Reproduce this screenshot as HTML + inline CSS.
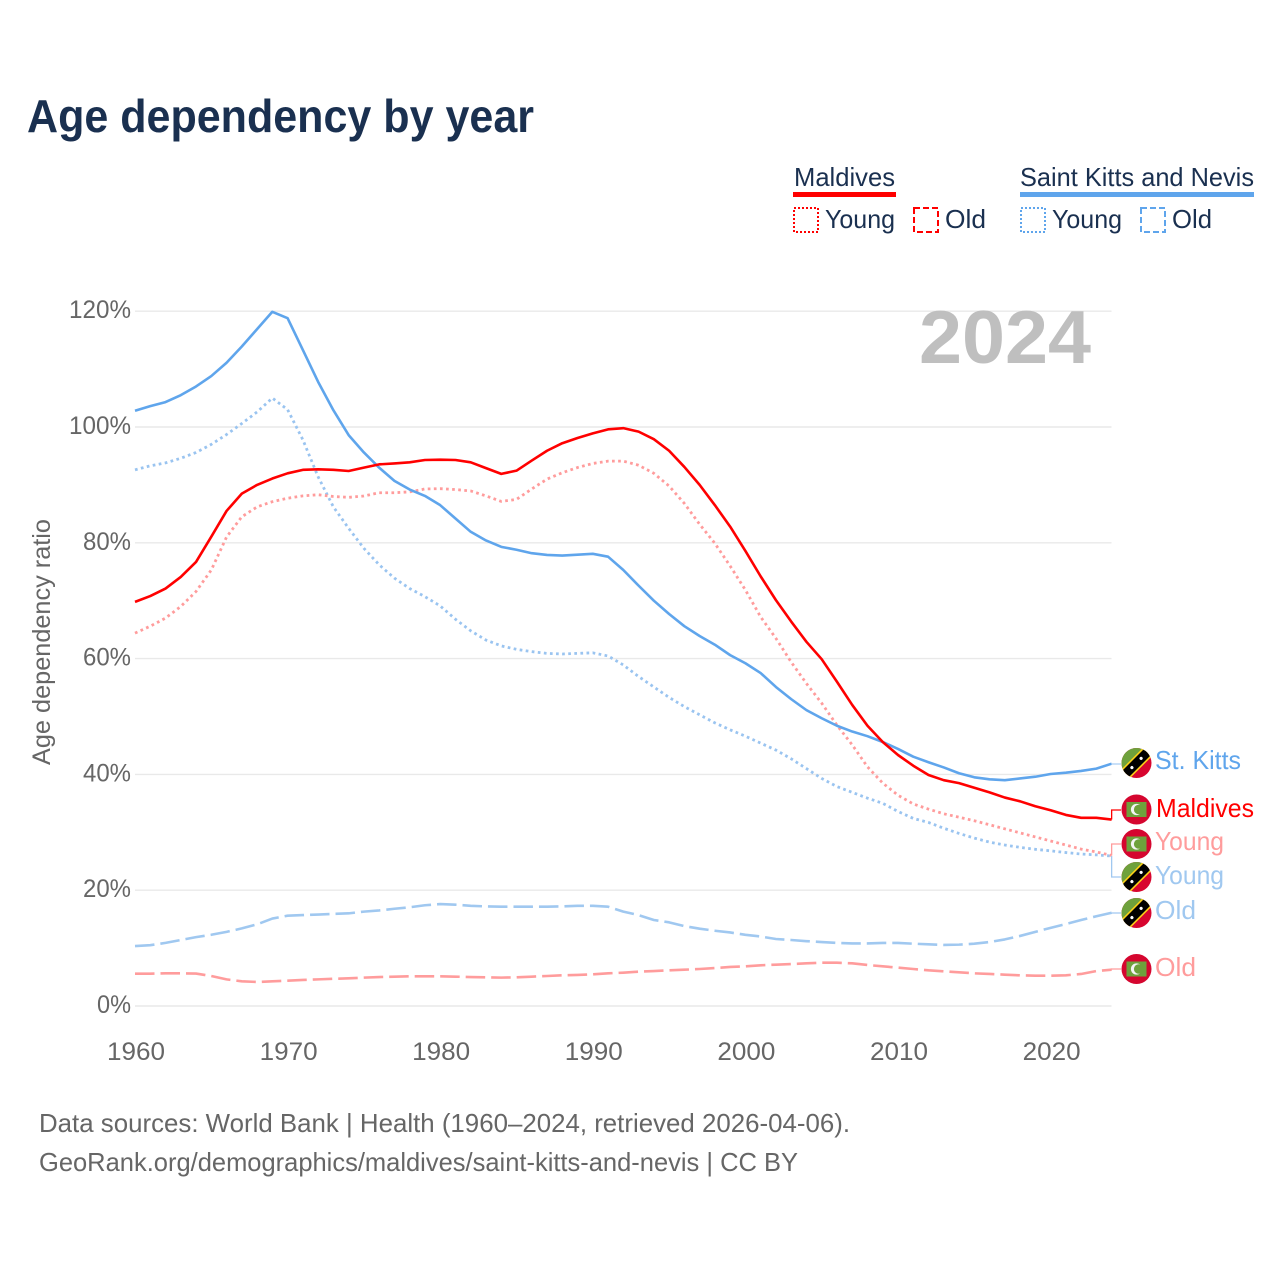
<!DOCTYPE html>
<html lang="en">
<head>
<meta charset="utf-8">
<title>Age dependency by year</title>
<style>
html,body{margin:0;padding:0;background:#fff;width:1280px;height:1280px;overflow:hidden}
svg{display:block}
text{font-family:"Liberation Sans",sans-serif}
</style>
</head>
<body>
<svg id="chart" width="1280" height="1280" viewBox="0 0 1280 1280" xmlns="http://www.w3.org/2000/svg">
<defs>
<clipPath id="flag-clip"><circle cx="0" cy="0" r="15"/></clipPath>
<g id="flag-kn" clip-path="url(#flag-clip)">
<rect x="-15" y="-15" width="30" height="30" fill="#d8062f"/>
<polygon points="-15,-15 15,-15 -15,15" fill="#6ea13c"/>
<g transform="rotate(-45)">
<rect x="-22" y="-6.2" width="44" height="12.4" fill="#fcd116"/>
<rect x="-22" y="-4.6" width="44" height="9.2" fill="#000"/>
<circle cx="6.5" cy="0" r="1.6" fill="#fff"/>
<circle cx="-6.5" cy="0" r="1.6" fill="#fff"/>
</g>
</g>
<g id="flag-mv" clip-path="url(#flag-clip)">
<rect x="-15" y="-15" width="30" height="30" fill="#d5062f"/>
<rect x="-10" y="-7.5" width="20" height="15" fill="#6ea13c"/>
<circle cx="0" cy="0" r="5.6" fill="#f4f4f4"/>
<circle cx="2.2" cy="0" r="4.8" fill="#6ea13c"/>
</g>
</defs>

<text x="27" y="132" font-size="46" font-weight="700" fill="#1a3050" textLength="507" lengthAdjust="spacingAndGlyphs">Age dependency by year</text>

<g fill="#1a3050" font-size="26">
<text x="794" y="186" textLength="101" lengthAdjust="spacingAndGlyphs">Maldives</text>
<rect x="793" y="192" width="103" height="5" fill="#ff0000"/>
<rect x="794" y="208" width="24" height="24" fill="none" stroke="#ff0000" stroke-width="2" stroke-dasharray="2,2"/>
<text x="825" y="228" textLength="70" lengthAdjust="spacingAndGlyphs">Young</text>
<rect x="914" y="208" width="24" height="24" fill="none" stroke="#ff0000" stroke-width="2" stroke-dasharray="6,3"/>
<text x="945" y="228" textLength="41" lengthAdjust="spacingAndGlyphs">Old</text>
<text x="1020" y="186" textLength="234" lengthAdjust="spacingAndGlyphs">Saint Kitts and Nevis</text>
<rect x="1020" y="192" width="234" height="5" fill="#5fa5ec"/>
<rect x="1021" y="208" width="24" height="24" fill="none" stroke="#5fa5ec" stroke-width="2" stroke-dasharray="2,2"/>
<text x="1052" y="228" textLength="70" lengthAdjust="spacingAndGlyphs">Young</text>
<rect x="1141" y="208" width="24" height="24" fill="none" stroke="#5fa5ec" stroke-width="2" stroke-dasharray="6,3"/>
<text x="1172" y="228" textLength="40" lengthAdjust="spacingAndGlyphs">Old</text>
</g>

<g id="grid"></g>
<text x="919" y="363" font-size="75" font-weight="700" fill="#bfbfbf" textLength="172" lengthAdjust="spacingAndGlyphs">2024</text>
<text transform="translate(50 765) rotate(-90)" font-size="25" fill="#666666" textLength="246" lengthAdjust="spacingAndGlyphs">Age dependency ratio</text>
<g id="y-ticks"></g>
<g id="x-ticks"></g>
<g id="series"></g>
<g id="connectors"></g>

<g font-size="26">
<use href="#flag-kn" x="1136.5" y="763"/>
<text x="1155" y="769" fill="#5fa5ec" textLength="86" lengthAdjust="spacingAndGlyphs">St. Kitts</text>
<use href="#flag-mv" x="1136.5" y="809.5"/>
<text x="1156" y="817" fill="#ff0000" textLength="98" lengthAdjust="spacingAndGlyphs">Maldives</text>
<use href="#flag-mv" x="1136.5" y="844"/>
<text x="1155" y="850" fill="#ff9c9c" textLength="69" lengthAdjust="spacingAndGlyphs">Young</text>
<use href="#flag-kn" x="1136.5" y="877"/>
<text x="1155" y="884" fill="#a0c8f0" textLength="69" lengthAdjust="spacingAndGlyphs">Young</text>
<use href="#flag-kn" x="1136.5" y="913"/>
<text x="1155" y="919" fill="#a0c8f0" textLength="41" lengthAdjust="spacingAndGlyphs">Old</text>
<use href="#flag-mv" x="1136.5" y="969"/>
<text x="1155" y="976" fill="#ff9c9c" textLength="41" lengthAdjust="spacingAndGlyphs">Old</text>
</g>

<text x="39" y="1132" font-size="26" fill="#666666" textLength="811" lengthAdjust="spacingAndGlyphs">Data sources: World Bank | Health (1960–2024, retrieved 2026-04-06).</text>
<text x="39" y="1171" font-size="26" fill="#666666" textLength="759" lengthAdjust="spacingAndGlyphs">GeoRank.org/demographics/maldives/saint-kitts-and-nevis | CC BY</text>
</svg>

<script>
const years = [1960,1961,1962,1963,1964,1965,1966,1967,1968,1969,1970,1971,1972,1973,1974,1975,1976,1977,1978,1979,1980,1981,1982,1983,1984,1985,1986,1987,1988,1989,1990,1991,1992,1993,1994,1995,1996,1997,1998,1999,2000,2001,2002,2003,2004,2005,2006,2007,2008,2009,2010,2011,2012,2013,2014,2015,2016,2017,2018,2019,2020,2021,2022,2023,2024];
const xTickLabels = [1960,1970,1980,1990,2000,2010,2020];
const yTickLabels = [0,20,40,60,80,100,120];

const maldivesTotal = [69.8,70.8,72.1,74.1,76.7,81.06,85.5,88.5,90,91.1,
92,92.6,92.7,92.6,92.4,92.98,93.55,93.7,93.9,94.3,
94.36,94.3,93.9,92.9,91.9,92.46,94.2,95.9,97.2,98.1,
98.9,99.6,99.8,99.2,97.9,95.9,93.1,90,86.5,82.8,
78.6,74.2,70.1,66.4,62.9,59.9,56,52,48.4,45.6,
43.35,41.5,39.9,39,38.5,37.7,36.9,36,35.35,34.5,
33.8,33,32.5,32.5,32.2];
const maldivesYoung = [64.4,65.6,67,69,71.6,75.3,81,84.5,86.2,87.1,
87.7,88.1,88.3,88,87.85,88.08,88.65,88.65,88.8,89.3,
89.35,89.2,88.95,88.1,87.15,87.5,89.3,91,92.1,93,
93.7,94.1,94.1,93.4,92,89.8,86.8,83.2,79.9,76,
71.85,67.2,63.5,59.4,55.7,52.3,48.5,45.1,41.3,38.5,
36.4,34.9,34,33.2,32.6,32,31.3,30.6,29.9,29.2,
28.5,27.8,27.1,26.6,26];
const maldivesOld = [5.58,5.58,5.64,5.64,5.6,5.18,4.6,4.26,4.15,4.26,
4.37,4.5,4.6,4.7,4.78,4.9,5,5.07,5.13,5.13,
5.13,5.07,5,4.95,4.9,4.95,5.07,5.18,5.3,5.36,
5.47,5.64,5.76,5.93,6.04,6.16,6.27,6.39,6.56,6.74,
6.85,7.03,7.14,7.25,7.37,7.48,7.48,7.37,7.08,6.85,
6.62,6.39,6.16,5.99,5.82,5.64,5.53,5.41,5.3,5.24,
5.24,5.3,5.53,6.04,6.27];
const kittsTotal = [102.8,103.6,104.3,105.5,107,108.8,111.1,113.9,116.9,119.9,
118.8,113.3,107.8,102.9,98.6,95.6,92.98,90.7,89.2,88.1,
86.5,84.2,81.9,80.4,79.3,78.8,78.2,77.9,77.8,77.95,
78.1,77.6,75.3,72.6,70,67.7,65.6,63.9,62.4,60.6,
59.2,57.5,55.1,53,51.1,49.7,48.4,47.4,46.6,45.6,
44.4,43.06,42.1,41.2,40.2,39.5,39.15,39,39.3,39.6,
40.07,40.3,40.6,41,41.85];
const kittsYoung = [92.6,93.3,93.8,94.6,95.6,97,98.7,100.6,102.6,105,
103,97.8,91.4,86.2,82.5,79.05,76.2,73.9,72.1,70.7,
69.1,66.8,64.8,63.2,62.2,61.6,61.2,60.9,60.8,60.9,
61,60.45,58.9,56.9,55.1,53.3,51.7,50.3,48.9,47.7,
46.6,45.4,44.2,42.7,41,39.3,37.9,36.9,35.9,35,
33.6,32.4,31.7,30.7,29.8,29,28.3,27.8,27.4,27.06,
26.8,26.5,26.25,26.1,25.9];
const kittsOld = [10.36,10.5,10.9,11.4,11.9,12.3,12.8,13.4,14.1,15.1,
15.6,15.7,15.8,15.9,16,16.3,16.5,16.8,17.05,17.4,
17.6,17.5,17.3,17.2,17.15,17.15,17.15,17.15,17.2,17.3,
17.3,17.15,16.3,15.7,14.85,14.45,13.8,13.35,13,12.7,
12.3,12,11.57,11.4,11.2,11.05,10.9,10.8,10.8,10.9,
10.9,10.76,10.65,10.55,10.6,10.76,11.05,11.5,12.1,12.8,
13.5,14.15,14.85,15.5,16.1];

const NS = 'http://www.w3.org/2000/svg';
function xScale(year){ return 135 + (year - 1960) * 15.26; }
function yScale(v){ return 1006 - v * 5.79; }
function mk(tag, parent, attrs){
  const el = document.createElementNS(NS, tag);
  for (const k in attrs) el.setAttribute(k, attrs[k]);
  parent.appendChild(el);
  return el;
}

const gridG = document.getElementById('grid');
const yG = document.getElementById('y-ticks');
yTickLabels.forEach(function(v){
  const line = mk('line', gridG, {x1:135, x2:1111.5, y1:yScale(v), y2:yScale(v), stroke:'#e9e9e9', 'stroke-width':1.4});
  
  
  const t = mk('text', yG, {x:131, y:yScale(v)+7, 'text-anchor':'end', 'font-size':25, fill:'#666666'});
  
  
  t.textContent = v + '%';
  t.setAttribute('textLength', String(v).length * 14 + 20);
  t.setAttribute('lengthAdjust', 'spacingAndGlyphs');
});
const xG = document.getElementById('x-ticks');
xTickLabels.forEach(function(y){
  const t = mk('text', xG, {x:xScale(y)+1, y:1060, 'text-anchor':'middle', 'font-size':25, fill:'#666666', textLength:58, lengthAdjust:'spacingAndGlyphs'});
  
  
  t.textContent = y;
});

function drawLine(values, color, dash, name, width){
  const d = values.map(function(v, i){
    return (i ? 'L' : 'M') + xScale(years[i]).toFixed(2) + ' ' + yScale(v).toFixed(2);
  }).join(' ');
  const p = mk('path', document.getElementById('series'), {d:d, fill:'none', stroke:color, 'stroke-width':width, 'stroke-linejoin':'round'});
  if (dash) p.setAttribute('stroke-dasharray', dash);
  
  
}
drawLine(kittsOld, '#a0c8f0', '19.5,6', 'line-kitts-old', 2.6);
drawLine(maldivesOld, '#ff9c9c', '19.5,6', 'line-maldives-old', 2.6);
drawLine(kittsYoung, '#9ac4f0', '2.7,3.4', 'line-kitts-young', 2.8);
drawLine(maldivesYoung, '#ff9c9c', '2.7,3.4', 'line-maldives-young', 2.8);
drawLine(kittsTotal, '#5fa5ec', null, 'line-kitts-total', 2.6);
drawLine(maldivesTotal, '#ff0000', null, 'line-maldives-total', 2.6);

function connector(values, targetY, color, name){
  const v = values[values.length - 1];
  const sx = xScale(years[years.length - 1]);
  const sy = yScale(v);
  const c = mk('path', document.getElementById('connectors'), {
    d:'M' + sx + ' ' + sy + ' L' + sx + ' ' + targetY + ' L1121 ' + targetY,
    fill:'none', stroke:color, 'stroke-width':1.3
  });
  
  
}
connector(kittsTotal, 764, '#a9cdf3', 'connector-kitts-total');
connector(maldivesTotal, 810, '#ff0000', 'connector-maldives-total');
connector(maldivesYoung, 844, '#ff9c9c', 'connector-maldives-young');
connector(kittsYoung, 877, '#a0c8f0', 'connector-kitts-young');
connector(kittsOld, 913, '#a0c8f0', 'connector-kitts-old');
connector(maldivesOld, 969, '#ff9c9c', 'connector-maldives-old');
</script>
</body>
</html>
